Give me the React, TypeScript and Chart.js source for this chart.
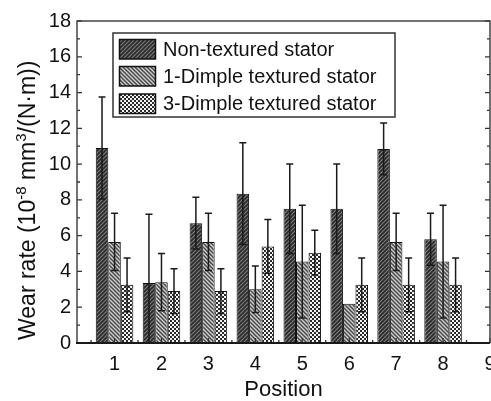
import React, { useEffect, useRef } from "react";
import { Chart, registerables } from "chart.js";

Chart.register(...registerables);

const positions = [1, 2, 3, 4, 5, 6, 7, 8];
const xTickValues = [1, 2, 3, 4, 5, 6, 7, 8, 9];
const xMinorTicks = [0.5, 1.5, 2.5, 3.5, 4.5, 5.5, 6.5, 7.5, 8.5];
const yMinorTicks = [1, 3, 5, 7, 9, 11, 13, 15, 17];

const seriesLabels = [
  "Non-textured stator",
  "1-Dimple textured stator",
  "3-Dimple textured stator",
];

const nonTextured = [10.9, 3.35, 6.7, 8.35, 7.5, 7.5, 10.85, 5.8];
const nonTexturedErr = [2.85, 3.85, 1.45, 2.85, 2.5, 2.5, 1.45, 1.45];
const oneDimple = [5.65, 3.4, 5.65, 3.0, 4.55, 2.2, 5.65, 4.55];
const oneDimpleErr = [1.6, 1.6, 1.6, 1.3, 3.15, 0, 1.6, 3.15];
const threeDimple = [3.25, 2.9, 2.9, 5.4, 5.05, 3.25, 3.25, 3.25];
const threeDimpleErr = [1.5, 1.25, 1.25, 1.5, 1.25, 1.5, 1.5, 1.5];

const errors = [nonTexturedErr, oneDimpleErr, threeDimpleErr];

const FONT = "'Liberation Sans', Arial, sans-serif";

function makeHatch(bg: string, fg: string, dir: 1 | -1, lw: number): CanvasPattern {
  const s = 4;
  const c = document.createElement("canvas");
  c.width = s;
  c.height = s;
  const g = c.getContext("2d")!;
  g.fillStyle = bg;
  g.fillRect(0, 0, s, s);
  g.strokeStyle = fg;
  g.lineWidth = lw;
  g.beginPath();
  if (dir === 1) {
    g.moveTo(-1, s + 1);
    g.lineTo(s + 1, -1);
    g.moveTo(-1, 1);
    g.lineTo(1, -1);
    g.moveTo(s - 1, s + 1);
    g.lineTo(s + 1, s - 1);
  } else {
    g.moveTo(-1, -1);
    g.lineTo(s + 1, s + 1);
    g.moveTo(s - 1, -1);
    g.lineTo(s + 1, 1);
    g.moveTo(-1, s - 1);
    g.lineTo(1, s + 1);
  }
  g.stroke();
  return g.createPattern(c, "repeat")!;
}

function makeDots(): CanvasPattern {
  const c = document.createElement("canvas");
  c.width = 4;
  c.height = 4;
  const g = c.getContext("2d")!;
  g.fillStyle = "#2a2a2a";
  g.fillRect(0, 0, 4, 4);
  g.fillStyle = "#f4f4f4";
  g.fillRect(0, 0, 2, 2);
  g.fillRect(2, 2, 2, 2);
  return g.createPattern(c, "repeat")!;
}

export default function App() {
  const ref = useRef<HTMLCanvasElement>(null);

  useEffect(() => {
    const canvas = ref.current!;
    const patterns = [
      makeHatch("#7a7a7a", "#2a2a2a", 1, 1.6),
      makeHatch("#cfcfcf", "#4a4a4a", -1, 1.5),
      makeDots(),
    ];

    const frameAndTicks = {
      id: "frameAndTicks",
      afterDatasetsDraw(chart: any) {
        const { ctx, chartArea: a } = chart;
        const xs = chart.scales.x;
        const ys = chart.scales.y;
        // error bars
        ctx.save();
        ctx.beginPath();
        ctx.rect(a.left, a.top - 2, a.right - a.left, a.bottom - a.top + 2);
        ctx.clip();
        ctx.strokeStyle = "#1a1a1a";
        ctx.lineWidth = 1.5;
        chart.data.datasets.forEach((ds: any, di: number) => {
          const meta = chart.getDatasetMeta(di);
          meta.data.forEach((bar: any, i: number) => {
            const e = errors[di][i];
            if (!e) return;
            const v = ds.data[i].y;
            const yt = ys.getPixelForValue(v + e);
            const yb = ys.getPixelForValue(v - e);
            const x = bar.x;
            ctx.beginPath();
            ctx.moveTo(x, yt);
            ctx.lineTo(x, yb);
            ctx.moveTo(x - 3.5, yt);
            ctx.lineTo(x + 3.5, yt);
            ctx.moveTo(x - 3.5, yb);
            ctx.lineTo(x + 3.5, yb);
            ctx.stroke();
          });
        });
        ctx.restore();

        ctx.save();
        ctx.strokeStyle = "#333333";
        ctx.lineWidth = 1.3;
        ctx.beginPath();
        ys.ticks.forEach((t: any) => {
          const y = ys.getPixelForValue(t.value);
          ctx.moveTo(a.left, y);
          ctx.lineTo(a.left + 5, y);
          ctx.moveTo(a.right, y);
          ctx.lineTo(a.right - 5, y);
        });
        yMinorTicks.forEach((v) => {
          const y = ys.getPixelForValue(v);
          ctx.moveTo(a.left, y);
          ctx.lineTo(a.left + 3, y);
          ctx.moveTo(a.right, y);
          ctx.lineTo(a.right - 3, y);
        });
        xs.ticks.forEach((t: any) => {
          const x = xs.getPixelForValue(t.value);
          ctx.moveTo(x, a.bottom);
          ctx.lineTo(x, a.bottom - 5);
        });
        xMinorTicks.forEach((v) => {
          const x = xs.getPixelForValue(v);
          ctx.moveTo(x, a.bottom);
          ctx.lineTo(x, a.bottom - 3);
        });
        ctx.stroke();
        ctx.lineWidth = 1.5;
        ctx.strokeStyle = "#444444";
        ctx.beginPath();
        ctx.moveTo(a.left, a.bottom);
        ctx.lineTo(a.left, a.top);
        ctx.lineTo(a.right, a.top);
        ctx.lineTo(a.right, a.bottom);
        ctx.stroke();
        ctx.lineWidth = 2.2;
        ctx.strokeStyle = "#1a1a1a";
        ctx.beginPath();
        ctx.moveTo(a.left - 1, a.bottom);
        ctx.lineTo(a.right, a.bottom);
        ctx.stroke();
        ctx.restore();

        // legend
        ctx.save();
        const lx = 113, ly = 33, lw = 282, lh = 84;
        ctx.fillStyle = "#ffffff";
        ctx.fillRect(lx, ly, lw, lh);
        ctx.strokeStyle = "#333333";
        ctx.lineWidth = 1.5;
        ctx.strokeRect(lx, ly, lw, lh);
        ctx.font = `20px ${FONT}`;
        ctx.textBaseline = "middle";
        ctx.textAlign = "left";
        const swY = [39.5, 66.5, 94];
        chart.data.datasets.forEach((ds: any, di: number) => {
          ctx.fillStyle = patterns[di];
          ctx.fillRect(119.5, swY[di], 36, 19.5);
          ctx.strokeStyle = "#111111";
          ctx.lineWidth = 1.5;
          ctx.strokeRect(119.5, swY[di], 36, 19.5);
          ctx.fillStyle = "#111111";
          ctx.fillText(ds.label, 163, swY[di] + 10.5);
        });
        ctx.restore();

        // y axis title with superscripts
        ctx.save();
        ctx.translate(35, 340);
        ctx.rotate(-Math.PI / 2);
        ctx.fillStyle = "#111111";
        ctx.textBaseline = "alphabetic";
        ctx.textAlign = "left";
        const parts: [string, boolean][] = [
          ["Wear rate (10", false],
          ["-8", true],
          [" mm", false],
          ["3", true],
          ["/(N\u00B7m))", false],
        ];
        let px = 0;
        parts.forEach(([txt, sup]) => {
          ctx.font = sup ? `15px ${FONT}` : `23px ${FONT}`;
          ctx.fillText(txt, px, sup ? -9 : 0);
          px += ctx.measureText(txt).width;
        });
        ctx.restore();
      },
    };

    const chart = new Chart(canvas, {
      type: "bar",
      data: {
        datasets: [nonTextured, oneDimple, threeDimple].map((vals, di) => ({
          label: seriesLabels[di],
          data: positions.map((p, i) => ({ x: p, y: vals[i] })),
          backgroundColor: patterns[di],
          borderColor: "#111111",
          borderWidth: 1,
          borderSkipped: false,
          categoryPercentage: 0.8,
          barPercentage: 1.0,
        })),
      },
      options: {
        responsive: false,
        animation: false,
        layout: { padding: { top: 21, right: 1, bottom: 0, left: 0 } },
        plugins: {
          legend: { display: false },
          tooltip: { enabled: false },
        },
        scales: {
          x: {
            type: "linear",
            min: 0.2,
            max: 9,
            offset: false,
            grid: { display: false, drawTicks: false, offset: false },
            border: { display: false },
            afterBuildTicks: (s: any) => {
              s.ticks = xTickValues.map((v) => ({ value: v }));
            },
            afterFit: (s: any) => {
              s.height = 58;
              s.paddingLeft = 0;
              s.paddingRight = 0;
            },
            ticks: {
              autoSkip: false,
              maxRotation: 0,
              padding: 9,
              color: "#111111",
              font: { family: FONT, size: 20 },
              callback: (v: any) => String(v),
            },
            title: {
              display: true,
              text: "Position",
              color: "#111111",
              font: { family: FONT, size: 22, lineHeight: 1 },
              padding: { top: 0, bottom: 0 },
            },
          },
          y: {
            min: 0,
            max: 18,
            grid: { display: false, drawTicks: false },
            border: { display: false },
            afterFit: (s: any) => {
              s.width = 77;
              s.paddingTop = 0;
              s.paddingBottom = 0;
            },
            ticks: {
              stepSize: 2,
              padding: 6,
              color: "#111111",
              font: { family: FONT, size: 20 },
            },
          },
        },
      },
      plugins: [frameAndTicks],
    });

    return () => chart.destroy();
  }, []);

  return (
    <div style={{ position: "fixed", left: 0, top: 0, width: 491, height: 401, background: "#fff" }}>
      <canvas ref={ref} width={491} height={401} style={{ display: "block" }} />
    </div>
  );
}
